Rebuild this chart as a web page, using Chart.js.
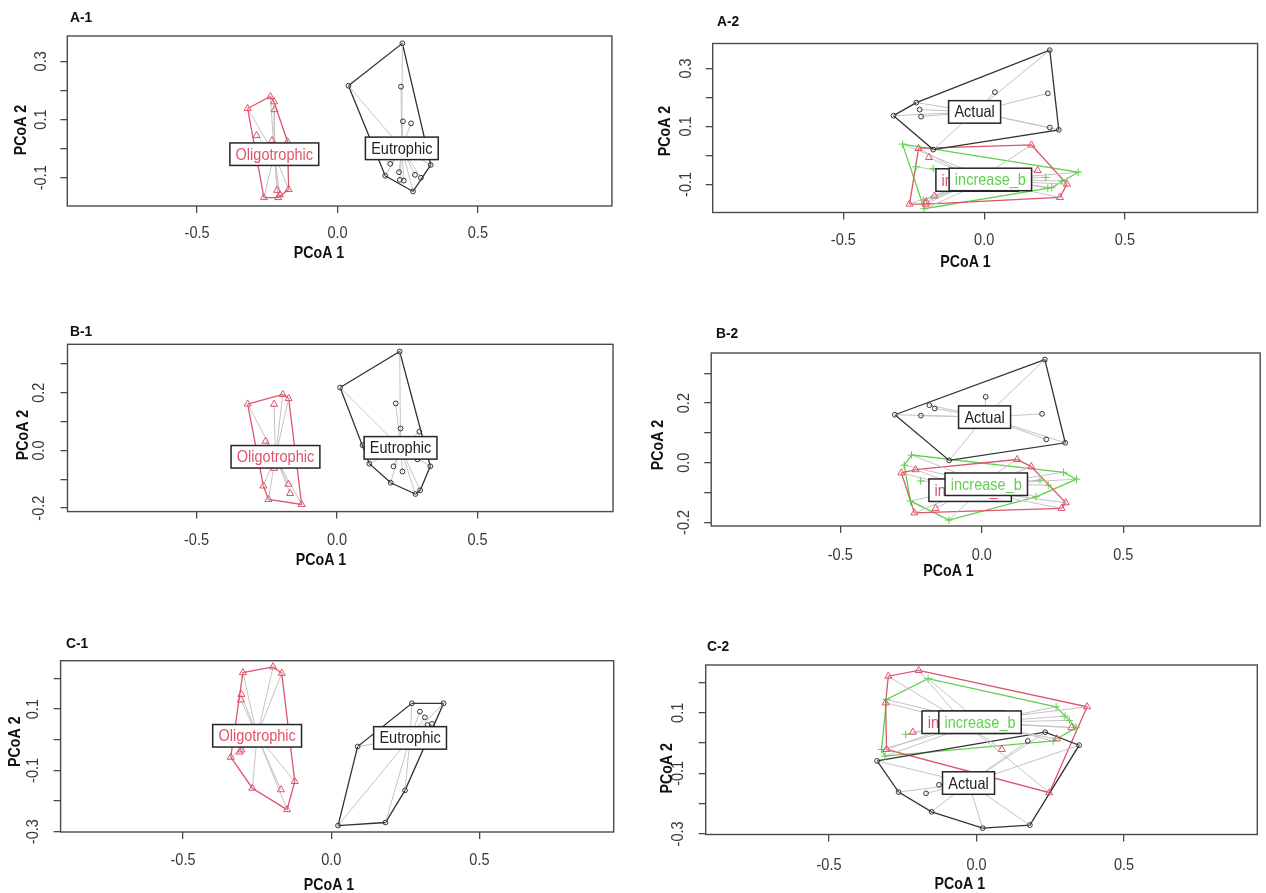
<!DOCTYPE html>
<html>
<head>
<meta charset="utf-8">
<script src="https://cdn.jsdelivr.net/npm/chart.js@4.4.1/dist/chart.umd.min.js"></script>
<style>
  html, body { margin: 0; padding: 0; background: #ffffff; }
  #wrap { position: relative; width: 1266px; height: 893px; overflow: hidden; background: #ffffff; }
  canvas { position: absolute; }
</style>
</head>
<body>
<div id="wrap"></div>
<script>
// ---------------- PCoA scores (PCoA 1, PCoA 2) ----------------

// A-1
const a1Oligotrophic = [[-0.320,0.138],[-0.239,0.179],[-0.226,0.161],[-0.224,0.134],[-0.288,0.045],[-0.233,0.028],[-0.178,0.024],[-0.215,-0.143],[-0.205,-0.158],[-0.211,-0.168],[-0.174,-0.140],[-0.262,-0.168]];
const a1Eutrophic = [[0.231,0.362],[0.039,0.216],[0.226,0.213],[0.233,0.094],[0.262,0.087],[0.332,-0.056],[0.188,-0.052],[0.170,-0.093],[0.219,-0.081],[0.222,-0.107],[0.236,-0.110],[0.276,-0.090],[0.297,-0.100],[0.269,-0.147]];
const a1OligotrophicCentre = [-0.225, -0.019];
const a1EutrophicCentre = [0.229, 0.001];

// A-2
const a2Actual = [[-0.322,0.137],[-0.241,0.182],[-0.229,0.158],[-0.224,0.134],[-0.181,0.020],[0.038,0.218],[0.233,0.363],[0.226,0.214],[0.233,0.096],[0.265,0.088]];
const a2IncreaseA = [[-0.233,0.024],[-0.196,-0.007],[-0.265,-0.168],[-0.206,-0.160],[-0.177,-0.140],[-0.208,-0.168],[0.168,0.036],[0.190,-0.052],[0.294,-0.099],[0.269,-0.145]];
const a2IncreaseB = [[-0.290,0.039],[-0.242,-0.039],[-0.181,-0.045],[-0.216,-0.154],[-0.213,-0.184],[0.334,-0.058],[0.219,-0.076],[0.276,-0.088],[0.240,-0.111],[0.226,-0.113]];
const a2ActualCentre = [-0.034, 0.150];
const a2IncreaseACentre = [-0.025, -0.085];
const a2IncreaseBCentre = [0.022, -0.083];

// B-1
const b1Oligotrophic = [[-0.318,0.161],[-0.224,0.160],[-0.193,0.194],[-0.172,0.180],[-0.254,0.032],[-0.224,-0.062],[-0.262,-0.123],[-0.173,-0.117],[-0.167,-0.149],[-0.244,-0.170],[-0.126,-0.187]];
const b1Eutrophic = [[0.223,0.343],[0.011,0.218],[0.209,0.163],[0.226,0.076],[0.293,0.065],[0.332,-0.055],[0.115,-0.046],[0.091,0.018],[0.201,-0.055],[0.233,-0.073],[0.286,-0.031],[0.191,-0.112],[0.279,-0.151],[0.296,-0.138]];
const b1OligotrophicCentre = [-0.219, -0.022];
const b1EutrophicCentre = [0.226, 0.009];

// B-2
const b2Actual = [[0.223,0.346],[-0.307,0.161],[-0.215,0.158],[-0.185,0.193],[-0.166,0.182],[0.014,0.221],[0.213,0.164],[0.228,0.078],[0.295,0.067],[-0.115,0.008]];
const b2IncreaseA = [[0.125,0.011],[0.175,-0.013],[0.297,-0.134],[0.282,-0.153],[-0.284,-0.034],[-0.234,-0.023],[-0.238,-0.168],[-0.163,-0.153]];
const b2IncreaseB = [[-0.248,0.026],[-0.274,-0.008],[-0.216,-0.061],[-0.252,-0.128],[-0.116,-0.192],[0.192,-0.114],[0.235,-0.075],[0.206,-0.058],[0.289,-0.032],[0.335,-0.055]];
const b2ActualCentre = [0.010, 0.153];
const b2IncreaseACentre = [-0.041, -0.092];
const b2IncreaseBCentre = [0.016, -0.072];

// C-1
const c1Oligotrophic = [[-0.298,0.219],[-0.196,0.238],[-0.167,0.217],[-0.303,0.148],[-0.305,0.130],[-0.303,-0.033],[-0.309,-0.040],[-0.339,-0.057],[-0.266,-0.158],[-0.170,-0.163],[-0.123,-0.136],[-0.149,-0.228]];
const c1Eutrophic = [[0.272,0.119],[0.379,0.119],[0.299,0.092],[0.316,0.073],[0.325,0.048],[0.340,0.052],[0.249,-0.165],[0.183,-0.270],[0.023,-0.280],[0.089,-0.022]];
const c1OligotrophicCentre = [-0.250, 0.013];
const c1EutrophicCentre = [0.266, 0.006];

// C-2
const c2Actual = [[-0.337,-0.059],[-0.264,-0.162],[-0.152,-0.227],[0.021,-0.281],[0.181,-0.271],[0.348,-0.007],[0.233,0.036],[0.174,0.007],[-0.127,-0.138],[-0.171,-0.166]];
const c2IncreaseA = [[-0.299,0.221],[-0.196,0.240],[-0.308,0.133],[0.375,0.120],[0.322,0.051],[0.273,0.014],[-0.216,0.036],[-0.305,-0.021],[0.086,-0.021],[0.247,-0.164]];
const c2IncreaseB = [[-0.164,0.213],[-0.305,0.144],[0.270,0.120],[0.300,0.089],[0.315,0.075],[0.338,0.051],[0.260,0.007],[-0.240,0.029],[-0.322,-0.021],[-0.310,-0.043]];
const c2ActualCentre = [-0.027, -0.132];
const c2IncreaseACentre = [-0.045, 0.069];
const c2IncreaseBCentre = [0.012, 0.069];

// Tick labels
const xTickLabels = [-0.5, 0.0, 0.5];
const yTickLabelsA = [0.3, 0.1, -0.1];
const yTickLabelsB = [0.2, 0.0, -0.2];
const yTickLabelsC = [0.1, -0.1, -0.3];

// ---------------- styling ----------------
const RED = '#DF536B';
const GREEN = '#61D04F';
const DARK = '#333333';
const SPIDER = '#C4C4C4';
const AXIS = '#4a4a4a';
const FONT = '"Liberation Sans", Arial, sans-serif';
const SQUEEZE = 0.88;

const MARKERS = {
  triangle: { style: 'triangle', radius: 4.1 },
  circle:   { style: 'circle',   radius: 2.4 },
  cross:    { style: 'cross',    radius: 3.8 }
};

function group(name, color, marker, pts, centre) {
  return { name, color, marker, pts, centre };
}

// canvas: [left, top, width, height]; frame: [left, top, right, bottom]; text anchors in page px
const panels = [
  { title: 'A-1', canvas: [0, 0, 640, 300], frame: [67.3, 36, 611.9, 206],
    xr: [-0.962, 0.977], yr: [-0.197, 0.387], yLabels: yTickLabelsA,
    titlePos: [70, 18.3], xLabY: 233.3, xTitlePos: [319, 253.3], yLabX: 41.5, yTitlePos: [21, 130],
    groups: [group('Oligotrophic', RED, 'triangle', a1Oligotrophic, a1OligotrophicCentre),
             group('Eutrophic', DARK, 'circle', a1Eutrophic, a1EutrophicCentre)] },
  { title: 'A-2', canvas: [640, 0, 626, 300], frame: [712.7, 43.5, 1257.6, 212.5],
    xr: [-0.964, 0.971], yr: [-0.197, 0.386], yLabels: yTickLabelsA,
    titlePos: [717, 22.3], xLabY: 240.7, xTitlePos: [965.5, 262.7], yLabX: 686, yTitlePos: [665.7, 131],
    groups: [group('Actual', DARK, 'circle', a2Actual, a2ActualCentre),
             group('increase_a', RED, 'triangle', a2IncreaseA, a2IncreaseACentre),
             group('increase_b', GREEN, 'cross', a2IncreaseB, a2IncreaseBCentre)] },
  { title: 'B-1', canvas: [0, 300, 640, 300], frame: [67.5, 344.3, 613, 511.6],
    xr: [-0.959, 0.982], yr: [-0.212, 0.368], yLabels: yTickLabelsB,
    titlePos: [70, 331.7], xLabY: 540, xTitlePos: [321, 560.7], yLabX: 39.5, yTitlePos: [23, 435],
    groups: [group('Oligotrophic', RED, 'triangle', b1Oligotrophic, b1OligotrophicCentre),
             group('Eutrophic', DARK, 'circle', b1Eutrophic, b1EutrophicCentre)] },
  { title: 'B-2', canvas: [640, 300, 626, 300], frame: [711.2, 353, 1260.2, 526],
    xr: [-0.956, 0.984], yr: [-0.212, 0.368], yLabels: yTickLabelsB,
    titlePos: [716, 334], xLabY: 555, xTitlePos: [948.5, 571.7], yLabX: 684, yTitlePos: [658.4, 445],
    groups: [group('Actual', DARK, 'circle', b2Actual, b2ActualCentre),
             group('increase_a', RED, 'triangle', b2IncreaseA, b2IncreaseACentre),
             group('increase_b', GREEN, 'cross', b2IncreaseB, b2IncreaseBCentre)] },
  { title: 'C-1', canvas: [0, 600, 640, 293], frame: [60.6, 660.7, 613.7, 832],
    xr: [-0.913, 0.953], yr: [-0.301, 0.258], yLabels: yTickLabelsC,
    titlePos: [66, 644], xLabY: 860.7, xTitlePos: [329, 885], yLabX: 33.6, yTitlePos: [15, 741.7],
    groups: [group('Oligotrophic', RED, 'triangle', c1Oligotrophic, c1OligotrophicCentre),
             group('Eutrophic', DARK, 'circle', c1Eutrophic, c1EutrophicCentre)] },
  { title: 'C-2', canvas: [640, 600, 626, 293], frame: [705.7, 665, 1257.3, 834.5],
    xr: [-0.918, 0.952], yr: [-0.302, 0.258], yLabels: yTickLabelsC,
    titlePos: [707, 646.7], xLabY: 865, xTitlePos: [959.8, 884.3], yLabX: 678.7, yTitlePos: [667.3, 768.3],
    groups: [group('Actual', DARK, 'circle', c2Actual, c2ActualCentre),
             group('increase_a', RED, 'triangle', c2IncreaseA, c2IncreaseACentre),
             group('increase_b', GREEN, 'cross', c2IncreaseB, c2IncreaseBCentre)] }
];

// ---------------- helpers ----------------
function convexHull(points) {
  const p = points.slice().sort((a, b) => a[0] - b[0] || a[1] - b[1]);
  const cross = (o, a, b) => (a[0] - o[0]) * (b[1] - o[1]) - (a[1] - o[1]) * (b[0] - o[0]);
  const lower = [], upper = [];
  for (const q of p) {
    while (lower.length >= 2 && cross(lower[lower.length - 2], lower[lower.length - 1], q) <= 0) lower.pop();
    lower.push(q);
  }
  for (let i = p.length - 1; i >= 0; i--) {
    const q = p[i];
    while (upper.length >= 2 && cross(upper[upper.length - 2], upper[upper.length - 1], q) <= 0) upper.pop();
    upper.push(q);
  }
  lower.pop(); upper.pop();
  return lower.concat(upper);
}

const xy = (p) => ({ x: p[0], y: p[1] });

function drawText(ctx, str, x, y, font, color, opts = {}) {
  ctx.save();
  ctx.translate(x, y);
  if (opts.rotate) ctx.rotate(opts.rotate);
  ctx.scale(opts.squeeze || SQUEEZE, 1);
  ctx.font = font;
  ctx.fillStyle = color;
  ctx.textAlign = opts.align || 'center';
  ctx.textBaseline = 'middle';
  ctx.fillText(str, 0, 0);
  ctx.restore();
}

const panelOf = new WeakMap();

// frame, tick labels, axis titles and group labels
const decorPlugin = {
  id: 'pcoaDecor',
  afterDatasetsDraw(chart) {
    const p = panelOf.get(chart.canvas);
    if (!p) return;
    const ctx = chart.ctx;
    const xs = chart.scales.x, ys = chart.scales.y;
    // group labels boxed at the group centroid, drawn in group order
    for (const g of p.groups) {
      const cx = xs.getPixelForValue(g.centre[0]);
      const cy = ys.getPixelForValue(g.centre[1]);
      ctx.save();
      ctx.font = '16px ' + FONT;
      const tw = ctx.measureText(g.name).width * 0.9;
      const w = tw + 12, h = 22.5;
      ctx.fillStyle = '#ffffff';
      ctx.fillRect(cx - w / 2, cy - h / 2, w, h);
      ctx.strokeStyle = '#262626';
      ctx.lineWidth = 1.5;
      ctx.strokeRect(cx - w / 2, cy - h / 2, w, h);
      ctx.restore();
      const tc = g.color === DARK ? '#222222' : g.color;
      drawText(ctx, g.name, cx, cy + 1, '16.5px ' + FONT, tc, { squeeze: 0.88 });
    }
  },
  afterDraw(chart) {
    const p = panelOf.get(chart.canvas);
    if (!p) return;
    const ctx = chart.ctx;
    const a = chart.chartArea;
    const ox = p.canvas[0], oy = p.canvas[1];
    // plot box
    ctx.save();
    ctx.strokeStyle = AXIS;
    ctx.lineWidth = 1.4;
    ctx.strokeRect(a.left, a.top, a.right - a.left, a.bottom - a.top);
    ctx.restore();
    const xs = chart.scales.x, ys = chart.scales.y;
    const tickFont = '16.5px ' + FONT;
    // x tick labels
    for (const t of xs.ticks) {
      if (!xTickLabels.some(v => Math.abs(v - t.value) < 1e-6)) continue;
      drawText(ctx, t.value.toFixed(1), xs.getPixelForValue(t.value), p.xLabY - oy, tickFont, '#383838');
    }
    // y tick labels, reading upwards
    for (const t of ys.ticks) {
      if (!p.yLabels.some(v => Math.abs(v - t.value) < 1e-6)) continue;
      drawText(ctx, t.value.toFixed(1), p.yLabX - ox, ys.getPixelForValue(t.value), tickFont, '#383838', { rotate: -Math.PI / 2 });
    }
    // axis titles
    const bold = 'bold 16.5px ' + FONT;
    drawText(ctx, 'PCoA 1', p.xTitlePos[0] - ox, p.xTitlePos[1] - oy, bold, '#111111', { squeeze: 0.86 });
    drawText(ctx, 'PCoA 2', p.yTitlePos[0] - ox, p.yTitlePos[1] - oy, bold, '#111111', { rotate: -Math.PI / 2, squeeze: 0.86 });
    // panel title
    drawText(ctx, p.title, p.titlePos[0] - ox, p.titlePos[1] - oy, 'bold 15px ' + FONT, '#111111', { align: 'left', squeeze: 0.92 });
  }
};

// ---------------- build the six ordination plots ----------------
const wrap = document.getElementById('wrap');

panels.forEach(p => {
  const [cx, cy, cw, ch] = p.canvas;
  const [fl, ft, fr, fb] = p.frame;
  const cv = document.createElement('canvas');
  cv.width = cw; cv.height = ch;
  cv.style.left = cx + 'px'; cv.style.top = cy + 'px';
  cv.style.width = cw + 'px'; cv.style.height = ch + 'px';
  wrap.appendChild(cv);
  panelOf.set(cv, p);

  const datasets = [];
  p.groups.forEach(g => {
    const m = MARKERS[g.marker];
    // sample points
    datasets.push({
      label: g.name,
      data: g.pts.map(xy),
      showLine: false,
      pointStyle: m.style,
      pointRadius: m.radius,
      pointHoverRadius: m.radius,
      pointBorderWidth: 1,
      pointBorderColor: g.color,
      pointBackgroundColor: 'rgba(0,0,0,0)',
      order: 0
    });
    // spider: centroid to each sample
    const spider = [];
    g.pts.forEach(pt => {
      spider.push(xy(g.centre), xy(pt), { x: NaN, y: NaN });
    });
    datasets.push({
      label: g.name + ' spider',
      data: spider,
      showLine: true,
      spanGaps: false,
      borderColor: SPIDER,
      borderWidth: 1,
      pointRadius: 0,
      pointHoverRadius: 0,
      fill: false,
      order: 1
    });
    // convex hull
    const hull = convexHull(g.pts);
    hull.push(hull[0]);
    datasets.push({
      label: g.name + ' hull',
      data: hull.map(xy),
      showLine: true,
      borderColor: g.color,
      borderWidth: 1.3,
      pointRadius: 0,
      pointHoverRadius: 0,
      fill: false,
      tension: 0,
      order: 2
    });
  });

  new Chart(cv, {
    type: 'scatter',
    data: { datasets },
    options: {
      responsive: false,
      animation: false,
      devicePixelRatio: 1,
      events: [],
      layout: { padding: { left: fl - cx, top: ft - cy, right: cx + cw - fr, bottom: cy + ch - fb } },
      plugins: { legend: { display: false }, tooltip: { enabled: false }, title: { display: false } },
      scales: {
        x: {
          type: 'linear', position: 'bottom', min: p.xr[0], max: p.xr[1],
          afterFit: (s) => { s.height = 0; },
          ticks: { display: false, stepSize: 0.5, includeBounds: false },
          grid: { drawOnChartArea: false, drawTicks: true, tickLength: 7, color: AXIS, lineWidth: 1.3 },
          border: { display: false }
        },
        y: {
          type: 'linear', position: 'left', min: p.yr[0], max: p.yr[1],
          afterFit: (s) => { s.width = 0; },
          ticks: { display: false, stepSize: 0.1, includeBounds: false },
          grid: { drawOnChartArea: false, drawTicks: true, tickLength: 7, color: AXIS, lineWidth: 1.3 },
          border: { display: false }
        }
      }
    },
    plugins: [decorPlugin]
  });
});
</script>
</body>
</html>
